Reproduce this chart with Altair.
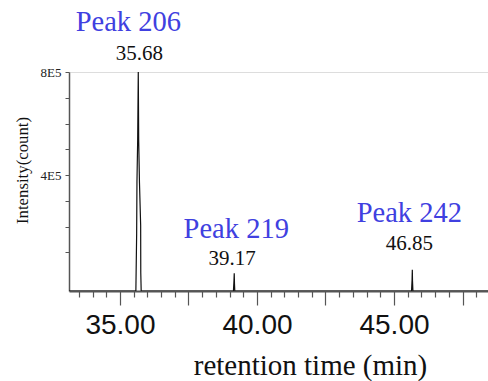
import altair as alt
import pandas as pd

# chromatogram trace (retention time in min, intensity in counts)
times = [33.14, 35.58, 35.609, 35.62, 35.646, 35.668, 35.683, 35.712, 35.755, 35.759, 35.774,
         39.14, 39.16, 39.17, 39.178, 39.19,
         45.64, 45.66, 45.668, 45.675, 45.69, 48.43]
intensity = [-50000, -50000, 174000, 373000, 536000, 800000, 536000, 369000, 205000, 22000, -50000,
             -50000, -10000, 19000, -20000, -50000,
             -50000, -5000, 32500, -10000, -50000, -50000]

# peak annotations
peak_names = ["Peak 206", "Peak 219", "Peak 242"]
peak_labels = ["35.68", "39.17", "46.85"]
peak_times = [35.668, 39.17, 45.668]
peak_heights = [800000, 19000, 32500]

trace = pd.DataFrame({"t": times, "v": intensity})
peaks = pd.DataFrame({"t": peak_times, "v": peak_heights, "name": peak_names, "lab": peak_labels})

xscale = alt.Scale(domain=[33.14, 48.43], nice=False, zero=False)
yscale = alt.Scale(domain=[-50000, 800000], nice=False, zero=False)

xaxis = alt.Axis(
    values=[33.5 + 0.5 * i for i in range(30)], tickCount=200,
    tickSize={"condition": {"test": "datum.value % 2.5 === 0", "value": 14}, "value": 6},
    labelExpr="datum.value % 5 === 0 ? format(datum.value, '.2f') : ''",
    labelFont="Liberation Sans",
    labelFontSize=28, labelColor="#111", labelPadding=6,
    tickColor="#555", tickWidth=1.2, domainColor="#555", domainWidth=2,
    grid=False, title="retention time (min)", titleFont="Liberation Serif",
    titleFontSize=29, titleFontWeight="normal", titleColor="#111",
    titleX=241, titleY=83, titleBaseline="alphabetic",
    labelFlush=False, labelOverlap=False,
)
yaxis = alt.Axis(
    values=[100000 * i for i in range(1, 9)], tickCount=50,
    labelExpr="datum.value == 800000 ? '8E5' : (datum.value == 400000 ? '4E5' : '')",
    labelFont="Liberation Serif", labelFontSize=13, labelColor="#222",
    tickSize=4, tickColor="#555", domainColor="#555", domainWidth=1.5,
    labelPadding=4, grid=False, title="Intensity(count)", titleFont="Liberation Serif",
    titleFontSize=16.8, titleFontWeight="normal", titleColor="#111", titlePadding=9,
    titleY=98,
    labelOverlap=False,
)

line = alt.Chart(trace).mark_line(color="#111", strokeWidth=1.2, clip=True).encode(
    x=alt.X("t:Q", scale=xscale, axis=xaxis),
    y=alt.Y("v:Q", scale=yscale, axis=yaxis),
)

layers = [line]
offsets = [(-12, -41, 1, -10), (-8, -35, -2, 2), (-20, -48, -3, -3)]
for i, (dy1, dy2, dx1, dx2) in enumerate(offsets):
    sub = peaks.iloc[[i]]
    layers.append(alt.Chart(sub).mark_text(
        font="Liberation Serif", fontSize=21, color="#111", baseline="alphabetic",
        dy=dy1, dx=dx1).encode(x="t:Q", y="v:Q", text="lab:N"))
    layers.append(alt.Chart(sub).mark_text(
        font="Liberation Serif", fontSize=28.5, color="#4040e0", baseline="alphabetic",
        dy=dy2, dx=dx2).encode(x="t:Q", y="v:Q", text="name:N"))

chart = alt.layer(*layers).properties(
    width=419, height=219,
    autosize=alt.AutoSizeParams(type="none"),
    padding={"left": 69, "top": 72, "right": 0, "bottom": 90},
).configure_view(stroke=None).configure(background="white")

chart.save("out.html", embed_options={"renderer": "svg", "actions": False})
